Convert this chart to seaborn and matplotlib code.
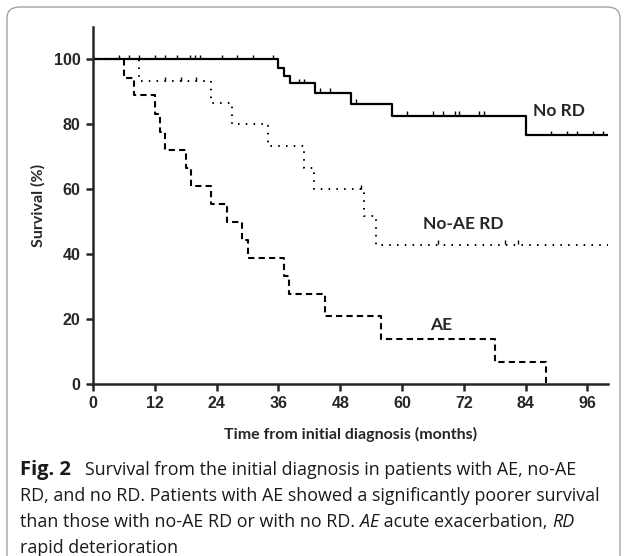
import numpy as np
import pandas as pd
import matplotlib
matplotlib.use("Agg")
import matplotlib.pyplot as plt
from matplotlib.patches import FancyBboxPatch
import seaborn as sns

# Kaplan-Meier steps (months, survival %)
no_rd_time = [0, 36, 37, 38.3, 43.1, 50.1, 58, 84, 100]
no_rd_surv = [100, 97.5, 95, 92.6, 89.8, 86.4, 82.6, 76.6, 76.6]
no_rd_cens = [5, 7, 9, 12, 14, 16.3, 18.8, 19.8, 20.8, 25, 28, 31, 35,
              40, 41, 44, 46, 51, 61, 66, 68, 70.3, 71, 75, 76, 89, 92, 94, 97, 99]

noae_time = [0, 9, 23, 27, 34, 41, 43, 52.7, 55, 100]
noae_surv = [100, 93.3, 86.7, 80, 73.3, 66.7, 60, 51.8, 42.9, 42.9]
noae_cens = [14, 17, 20, 52, 67, 80, 82.5]

ae_time = [0, 6, 8, 12, 13, 14, 18, 19, 23, 26, 29, 30, 37, 38, 45, 56, 78, 88]
ae_surv = [100, 94.4, 88.9, 83.3, 77.8, 72.2, 66.7, 61.1, 55.6, 50, 44.4, 38.9,
           33.3, 27.8, 20.8, 13.9, 6.9, 0]

curve_labels = ["No RD", "No-AE RD", "AE"]

sns.set_style("ticks")
plt.rcParams['font.family'] = ['Liberation Sans', 'DejaVu Sans']

fig = plt.figure(figsize=(6.27, 5.56), dpi=100)
ax = fig.add_axes([93 / 627, 1 - 384 / 556, 515 / 627, 357 / 556])

df_norD = pd.DataFrame({"t": no_rd_time, "s": no_rd_surv})
df_noae = pd.DataFrame({"t": noae_time, "s": noae_surv})
df_ae = pd.DataFrame({"t": ae_time, "s": ae_surv})

sns.lineplot(data=df_norD, x="t", y="s", ax=ax, color="black", lw=1.6,
             drawstyle="steps-post", estimator=None)
sns.lineplot(data=df_noae, x="t", y="s", ax=ax, color="black", lw=1.4,
             drawstyle="steps-post", estimator=None, linestyle=(0, (0.8, 3.2)))
sns.lineplot(data=df_ae, x="t", y="s", ax=ax, color="black", lw=1.5,
             drawstyle="steps-post", estimator=None, linestyle=(0, (3, 2)))


def step_value(times, surv, t):
    i = np.searchsorted(times, t, side="right") - 1
    return surv[i]


# censor ticks
for times, surv, cens in [(no_rd_time, no_rd_surv, no_rd_cens),
                          (noae_time, noae_surv, noae_cens)]:
    yv = [step_value(times, surv, c) + 0.8 for c in cens]
    ax.plot(cens, yv, ls="none", marker="|", ms=2.5, mew=1.0, color="black")

lab_font = dict(family=['Lato', 'DejaVu Sans'], weight="bold", fontsize=12.5)
ax.text(85.4, 84.2, curve_labels[0], va="center", ha="left", **lab_font)
ax.text(64, 49.2, curve_labels[1], va="center", ha="left", **lab_font)
ax.text(65.4, 18.3, curve_labels[2], va="center", ha="left", **lab_font)

axis_font = dict(family=['Lato', 'DejaVu Sans'], weight="bold", fontsize=11.5)
ax.set_xlim(0, 100)
ax.set_ylim(0, 110)
ax.set_xticks(range(0, 97, 12))
ax.set_yticks(range(0, 101, 20))
ax.tick_params(axis="both", direction="out", length=5, width=1.8,
               labelsize=11.5, pad=4)
for lab in ax.get_xticklabels() + ax.get_yticklabels():
    lab.set_fontweight("bold")
for side in ["top", "right"]:
    ax.spines[side].set_visible(False)
for side in ["left", "bottom"]:
    ax.spines[side].set_linewidth(1.8)
ax.set_xlabel("Time from initial diagnosis (months)", labelpad=11, **axis_font)
ax.set_ylabel("Survival (%)", labelpad=6, **axis_font)
ax.set_facecolor("none")

# frame around the figure panel
frame = FancyBboxPatch((7 / 627, -0.05), 613 / 627, 1 - 7 / 556 + 0.05,
                       boxstyle="round,pad=0,rounding_size=0.02",
                       transform=fig.transFigure, fill=False,
                       edgecolor="#9a9a9a", lw=0.9, zorder=-1)
fig.patches.append(frame)

# caption with mixed styles
cap_font = ['Open Sans', 'DejaVu Sans']
cap_size = 12.9
caption = [
    [("Fig. 2", "bold", "normal", 14.5), ("   Survival from the initial diagnosis in patients with AE, no-AE", "normal", "normal", cap_size)],
    [("RD, and no RD. Patients with AE showed a significantly poorer survival", "normal", "normal", cap_size)],
    [("than those with no-AE RD or with no RD. ", "normal", "normal", cap_size), ("AE", "normal", "italic", cap_size),
     (" acute exacerbation, ", "normal", "normal", cap_size), ("RD", "normal", "italic", cap_size)],
    [("rapid deterioration", "normal", "normal", cap_size)],
]
line_y = [470, 496, 522, 548]
fig.canvas.draw()
renderer = fig.canvas.get_renderer()
for pieces, yy in zip(caption, line_y):
    x = 20
    for txt, w, st, sz in pieces:
        t = fig.text(x / 627, 1 - yy / 556, txt, family=cap_font, fontsize=sz,
                     weight=w, style=st, va="center", ha="left", color="#1a1a1a")
        bb = t.get_window_extent(renderer=renderer)
        x += bb.width

fig.savefig("out.png", dpi=100)
